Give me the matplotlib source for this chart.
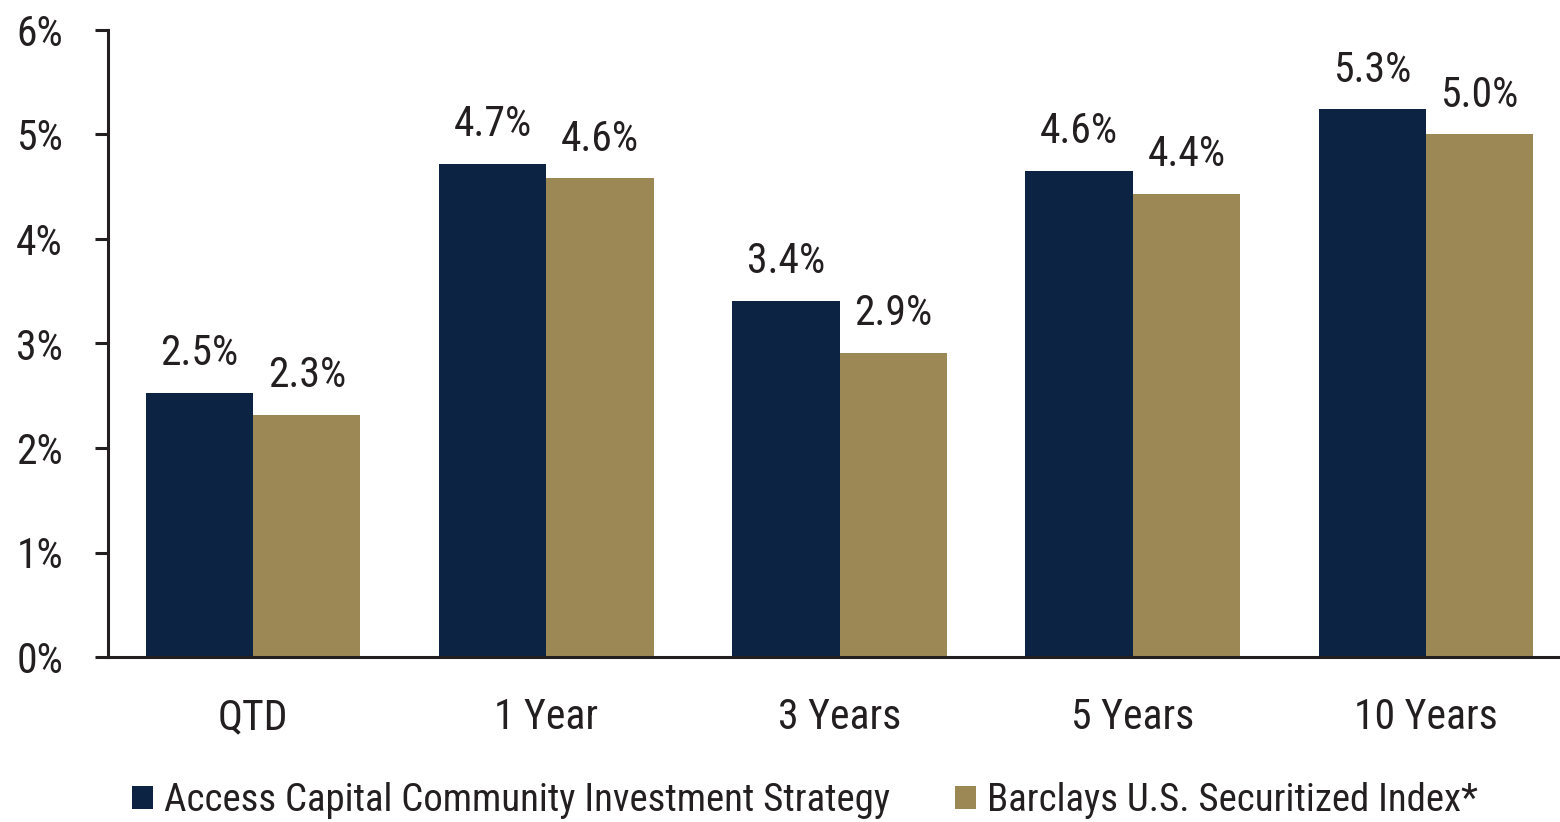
import matplotlib
matplotlib.use("Agg")
import matplotlib.pyplot as plt
from matplotlib import font_manager
import numpy as np

categories = ["QTD", "1 Year", "3 Years", "5 Years", "10 Years"]
series_names = ["Access Capital Community Investment Strategy", "Barclays U.S. Securitized Index*"]
access_values = [2.53, 4.72, 3.41, 4.65, 5.24]
barclays_values = [2.32, 4.58, 2.91, 4.43, 5.00]
access_labels = ["2.5%", "4.7%", "3.4%", "4.6%", "5.3%"]
barclays_labels = ["2.3%", "4.6%", "2.9%", "4.4%", "5.0%"]
y_ticks = [0, 1, 2, 3, 4, 5, 6]
y_tick_labels = ["0%", "1%", "2%", "3%", "4%", "5%", "6%"]

names = {f.name for f in font_manager.fontManager.ttflist}
family = next((n for n in ["Liberation Sans Narrow", "Roboto Condensed", "Archivo Narrow", "PT Sans Narrow"] if n in names), "Liberation Sans")
plt.rcParams["font.family"] = [family, "DejaVu Sans"]

navy = "#0D2344"
gold = "#9C8855"
txt = "#231F20"
fs = 30

fig = plt.figure(figsize=(15.6, 8.22), dpi=100)
ax = fig.add_axes([108/1560, 165/822, 1 - 108/1560, (657-30)/822])

x = np.arange(len(categories))
w = 0.366
b1 = ax.bar(x - w/2, access_values, w, color=navy, label=series_names[0])
b2 = ax.bar(x + w/2, barclays_values, w, color=gold, label=series_names[1])

for rects, labs in ((b1, access_labels), (b2, barclays_labels)):
    for r, lab in zip(rects, labs):
        ax.annotate(lab, (r.get_x() + r.get_width()/2, r.get_height()),
                    xytext=(0, 20), textcoords="offset points",
                    ha="center", va="baseline", fontsize=fs, color=txt)

ax.set_xlim(-0.495, 4.457)
ax.set_ylim(0, 6)
ax.set_yticks(y_ticks)
ax.set_yticklabels(y_tick_labels)
ax.set_xticks(x)
ax.set_xticklabels(categories)
for s in ("top", "right"):
    ax.spines[s].set_visible(False)
for s in ("left", "bottom"):
    ax.spines[s].set_linewidth(2.2)
    ax.spines[s].set_color(txt)
ax.tick_params(axis="y", length=9.4, width=2.2, color=txt, pad=23, labelsize=fs, labelcolor=txt)
ax.tick_params(axis="x", length=0, pad=29, labelsize=fs, labelcolor=txt)

fig.legend(handles=[b1, b2], labels=series_names, loc="center", bbox_to_anchor=(0.516, 0.026),
           ncol=2, frameon=False, fontsize=28, handlelength=0.55, handleheight=0.55,
           handletextpad=0.28, columnspacing=1.67, labelcolor=txt)

fig.savefig("out.png", dpi=100)
